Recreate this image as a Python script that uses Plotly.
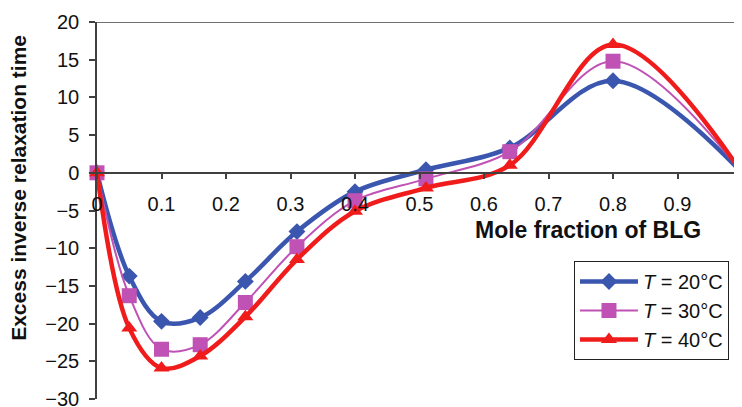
import plotly.graph_objects as go

x_vals = [0, 0.05, 0.10, 0.16, 0.23, 0.31, 0.40, 0.51, 0.64, 0.80, 1.00]
t20 = [0, -13.7, -19.7, -19.2, -14.4, -7.8, -2.5, 0.4, 3.3, 12.2, 0]
t30 = [0, -16.3, -23.4, -22.8, -17.2, -9.8, -3.7, -0.8, 2.8, 14.8, 0]
t40 = [0, -20.6, -25.9, -24.3, -19.1, -11.5, -5.1, -2.0, 1.0, 17.0, 0]
series_names = ["<i>T</i> = 20°C", "<i>T</i> = 30°C", "<i>T</i> = 40°C"]
x_ticks = [0, 0.1, 0.2, 0.3, 0.4, 0.5, 0.6, 0.7, 0.8, 0.9, 1.0]
x_tick_labels = ["0", "0.1", "0.2", "0.3", "0.4", "0.5", "0.6", "0.7", "0.8", "0.9", "1"]
y_ticks = [-30, -25, -20, -15, -10, -5, 0, 5, 10, 15, 20]
y_tick_labels = ["−30", "−25", "−20", "−15", "−10", "−5", "0", "5", "10", "15", "20"]

styles = [
    dict(color="#3A56AE", width=4.5, symbol="diamond", size=13),
    dict(color="#C052B5", width=2, symbol="square", size=15),
    dict(color="#F01C1C", width=4.5, symbol="triangle-up", size=14),
]

fig = go.Figure()
for name, ys, st in zip(series_names, [t20, t30, t40], styles):
    fig.add_trace(go.Scatter(
        x=x_vals, y=ys, name=name, mode="lines+markers",
        line=dict(color=st["color"], width=st["width"], shape="spline", smoothing=1.0),
        marker=dict(color=st["color"], symbol=st["symbol"], size=st["size"]),
        cliponaxis=False,
    ))

FAM = "Liberation Sans, Arial, sans-serif"
font = dict(family=FAM, size=20, color="#111111")
axcol = "#404040"

fig.update_layout(
    template="none",
    width=742, height=407,
    margin=dict(l=89, r=8, t=14, b=16, autoexpand=False),
    plot_bgcolor="white", paper_bgcolor="white",
    font=font,
    showlegend=True,
    legend=dict(x=0.7395, y=0.366, xanchor="left", yanchor="top",
                bordercolor="#222222", borderwidth=1, bgcolor="white",
                font=font, tracegroupgap=4, itemwidth=58),
    xaxis=dict(range=[0, 1.0], anchor="free", position=0.6, automargin=False,
               tickvals=x_ticks, ticktext=x_tick_labels,
               showgrid=False, zeroline=False,
               showline=True, linecolor=axcol, linewidth=1.5,
               ticks="outside", ticklen=5, tickcolor=axcol, tickwidth=1.5,
               ticklabelstandoff=8, tickfont=font),
    yaxis=dict(range=[-30, 20], domain=[0, 1], automargin=False,
               tickvals=y_ticks, ticktext=y_tick_labels,
               showgrid=False, zeroline=False,
               showline=True, linecolor=axcol, linewidth=1.5,
               ticks="outside", ticklen=6, tickcolor=axcol, tickwidth=1.5,
               ticklabelstandoff=6, tickfont=font),
)

fig.add_shape(type="line", xref="paper", yref="y", x0=0, x1=1, y0=20, y1=20,
              line=dict(color=axcol, width=1.5))

fig.add_annotation(x=0.9395, y=0, xref="paper", yref="y", text="<b>Mole fraction of BLG</b>",
                   showarrow=False, xanchor="right", yanchor="top", yshift=-42,
                   font=dict(family=FAM, size=23, color="#111111"))
fig.add_annotation(x=-0.121, y=0.56, xref="paper", yref="paper",
                   text="<b>Excess inverse relaxation time</b>", textangle=-90,
                   showarrow=False, xanchor="center", yanchor="middle",
                   font=dict(family=FAM, size=21, color="#111111"))

fig.write_html("out.html")
